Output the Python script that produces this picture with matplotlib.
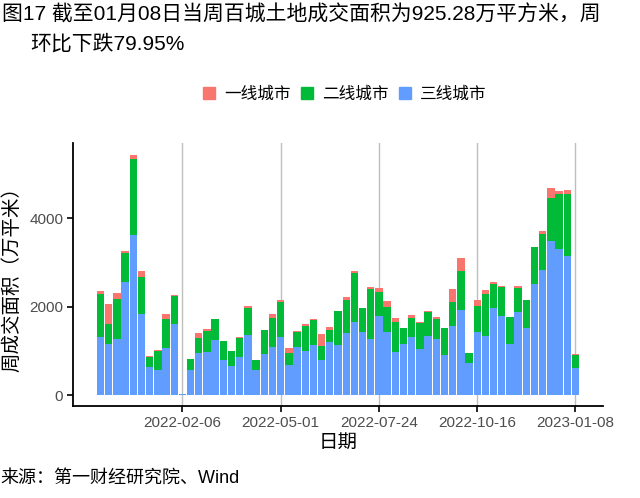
import pandas as pd
import matplotlib.pyplot as plt
import matplotlib.dates as mdates
from matplotlib.patches import Patch

plt.rcParams['font.family'] = ['Liberation Sans', 'Noto Sans CJK SC']

# weekly land transaction area, 10k sqm
weeks = pd.date_range('2021-11-28', periods=59, freq='7D')
tier3 = [1318, 1160, 1258, 2568, 3629, 1837, 633, 557, 1062, 1611, 20,
         572, 956, 979, 1242, 798, 663, 858, 1355, 572, 919, 1092,
         1303, 670, 1084, 1001, 1122, 791, 1197, 1130, 1408, 1642, 1423, 1258,
         1792, 1423, 979, 1160, 1310, 1032, 1333, 1273, 896, 1559, 1920, 723,
         1416, 1333, 1973, 1792, 1160, 1890, 1514, 2507, 2831, 3479, 3298, 3140, 610]
tier2 = [971, 452, 919, 655, 1724, 836, 218, 429, 648, 640, 0,
         233, 339, 474, 474, 414, 331, 429, 617, 226, 542, 648,
         813, 271, 339, 565, 572, 309, 279, 783, 745, 1114, 550, 1137,
         542, 572, 678, 354, 437, 587, 542, 444, 617, 542, 881, 218,
         610, 949, 542, 663, 610, 542, 648, 836, 806, 979, 1242, 1400, 294]
tier1 = [68, 437, 136, 30, 90, 136, 30, 30, 113, 10, 0,
         0, 113, 30, 15, 0, 0, 23, 38, 0, 0, 90,
         30, 120, 30, 45, 23, 271, 68, 0, 60, 45, 0, 53,
         90, 143, 75, 0, 53, 30, 23, 45, 0, 301, 294, 0,
         128, 90, 45, 15, 0, 30, 0, 0, 83, 218, 68, 90, 23]
tick_dates = ['2022-02-06', '2022-05-01', '2022-07-24', '2022-10-16', '2023-01-08']
series_names = ['一线城市', '二线城市', '三线城市']
colors = ['#F8766D', '#00BA38', '#619CFF']

fig = plt.figure(figsize=(6.4, 4.98), dpi=100)
ax = fig.add_axes([73 / 640, 1 - 406 / 498, 530 / 640, 263 / 498])

ticks = pd.to_datetime(tick_dates)
for t in ticks:
    ax.axvline(t, color='#BEBEBE', lw=1, zorder=0)

w = pd.Timedelta(days=6.3)
bottom2 = tier3
bottom1 = [a + b for a, b in zip(tier3, tier2)]
ax.bar(weeks, tier3, width=w, color=colors[2], zorder=2)
ax.bar(weeks, tier2, width=w, bottom=bottom2, color=colors[1], zorder=2)
ax.bar(weeks, tier1, width=w, bottom=bottom1, color=colors[0], zorder=2)

wk = pd.Timedelta(days=7)
ax.set_xlim(weeks[0] - 3.36 * wk, weeks[0] + 61.36 * wk)
ax.set_ylim(-249, 5705)
ax.set_xticks(ticks)
ax.xaxis.set_major_formatter(mdates.DateFormatter('%Y-%m-%d'))
ax.set_yticks([0, 2000, 4000])

for s in ['top', 'right']:
    ax.spines[s].set_visible(False)
for s in ['left', 'bottom']:
    ax.spines[s].set_linewidth(1.3)
ax.tick_params(axis='both', labelsize=11, labelcolor='#4D4D4D', length=4, width=1.2, pad=3)

ax.set_xlabel('日期', fontsize=14, labelpad=4)
ax.set_ylabel('周成交面积（万平米）', fontsize=14, labelpad=6)

handles = [Patch(color=c) for c in colors]
fig.legend(handles, series_names, loc='center', bbox_to_anchor=(345 / 640, 1 - 94 / 498),
           ncol=3, frameon=False, fontsize=12, handlelength=0.7, handleheight=0.7,
           handletextpad=0.55, columnspacing=0.65)

fig.text(2 / 640, 1 - 4 / 498, '图17 截至01月08日当周百城土地成交面积为925.28万平方米，周',
         fontsize=15, va='top', ha='left')
fig.text(30 / 640, 1 - 34 / 498, '环比下跌79.95%', fontsize=15, va='top', ha='left')
fig.text(0, 1 - 478 / 498, '来源：第一财经研究院、Wind', fontsize=13, va='center', ha='left')

fig.savefig('out.png', dpi=100)
